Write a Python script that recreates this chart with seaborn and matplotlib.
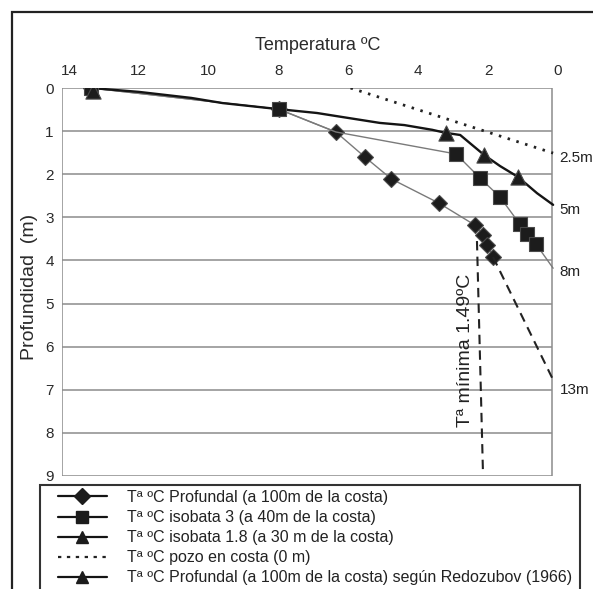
import matplotlib
matplotlib.use("Agg")
import matplotlib.pyplot as plt
import seaborn as sns
import pandas as pd
from matplotlib.lines import Line2D
from matplotlib.patches import Rectangle

# ---------------- data (temperature ºC, depth m) ----------------
prof_temp = [13.37, 8.0, 6.36, 5.53, 4.77, 3.41, 2.38, 2.15, 2.03, 1.86]
prof_depth = [0.0, 0.49, 1.02, 1.60, 2.11, 2.67, 3.18, 3.41, 3.64, 3.92]

iso3_line_temp = [13.37, 8.0, 6.36, 2.92, 2.23, 1.66, 1.09, 0.89, 0.63, 0.14]
iso3_line_depth = [0.0, 0.49, 1.02, 1.53, 2.09, 2.53, 3.16, 3.39, 3.62, 4.18]
iso3_mark_temp = [13.37, 8.0, 2.92, 2.23, 1.66, 1.09, 0.89, 0.63]
iso3_mark_depth = [0.0, 0.49, 1.53, 2.09, 2.53, 3.16, 3.39, 3.62]

iso18_line_temp = [13.37, 12.0, 10.5, 9.6, 8.0, 6.9, 6.2, 5.1, 4.4, 3.6, 3.22,
                   2.8, 2.52, 2.12, 1.66, 1.15, 0.6, 0.14]
iso18_line_depth = [0.0, 0.09, 0.23, 0.35, 0.49, 0.58, 0.67, 0.81, 0.86, 0.97, 1.04,
                    1.09, 1.28, 1.55, 1.81, 2.06, 2.44, 2.71]
iso18_mark_temp = [13.3, 3.22, 2.12, 1.15]
iso18_mark_depth = [0.07, 1.04, 1.55, 2.06]

pozo_temp = [5.94, 0.14]
pozo_depth = [0.0, 1.51]

extrap_temp = [1.86, 0.14]
extrap_depth = [3.92, 6.77]

tmin_temp = [2.32, 2.15]
tmin_depth = [3.55, 8.86]

well_labels = ["2.5m", "5m", "8m", "13m"]
well_label_depth = [1.62, 2.83, 4.27, 7.0]

x_ticks = [14, 12, 10, 8, 6, 4, 2, 0]
y_ticks = [0, 1, 2, 3, 4, 5, 6, 7, 8, 9]
grid_depths = [1, 2, 3, 4, 5, 6, 7, 8]

legend_labels = [
    "Tª ºC Profundal (a 100m de la costa)",
    "Tª ºC isobata 3 (a 40m de la costa)",
    "Tª ºC isobata 1.8 (a 30 m de la costa)",
    "Tª ºC pozo en costa (0 m)",
    "Tª ºC Profundal (a 100m de la costa) según Redozubov (1966)",
]

# ---------------- style ----------------
sns.set_theme(style="white")
plt.rcParams["font.family"] = ["Liberation Sans", "DejaVu Sans"]
plt.rcParams["text.color"] = "#222222"

W, H = 593, 589
fig = plt.figure(figsize=(W / 100, H / 100), dpi=100)
ax = fig.add_axes([62 / W, 1 - 476 / H, (558 - 62) / W, (476 - 88) / H])

XL, XR = 14.2, 0.0
ax.set_xlim(XL, XR)
ax.set_ylim(9, 0)
for s in ax.spines.values():
    s.set_visible(False)

gray = "#8c8c8c"
# frame and grid lines of the plot area
ax.hlines(grid_depths, XL, 0.16, color=gray, lw=1.1, zorder=1)
ax.hlines([0, 9], XL, 0.16, color=gray, lw=1.1, zorder=1)
ax.vlines([XL, 0.16], 0, 9, color=gray, lw=1.1, zorder=1)

mk = dict(markerfacecolor="#1c1c1c", markeredgecolor="#4a4a4a", markeredgewidth=0.8)

# Profundal (diamonds)
sns.lineplot(x=prof_temp, y=prof_depth, sort=False, estimator=None, ax=ax,
             color="#7a7a7a", lw=1.0, marker="D", markersize=8, zorder=3, **mk)
# isobata 3 (squares)
sns.lineplot(x=iso3_line_temp, y=iso3_line_depth, sort=False, estimator=None, ax=ax,
             color="#7a7a7a", lw=1.0, zorder=3)
sns.scatterplot(x=iso3_mark_temp, y=iso3_mark_depth, ax=ax, marker="s", s=95,
                color="#1c1c1c", edgecolor="#4a4a4a", linewidth=0.8, zorder=5)
# isobata 1.8 (thick curve + triangles)
sns.lineplot(x=iso18_line_temp, y=iso18_line_depth, sort=False, estimator=None, ax=ax,
             color="#141414", lw=1.7, zorder=4)
sns.scatterplot(x=iso18_mark_temp, y=iso18_mark_depth, ax=ax, marker="^", s=120,
                color="#1c1c1c", edgecolor="#4a4a4a", linewidth=0.8, zorder=5)
# pozo en costa (dotted)
sns.lineplot(x=pozo_temp, y=pozo_depth, sort=False, estimator=None, ax=ax,
             color="#222222", lw=2.0, linestyle=(0, (0.9, 2.4)), zorder=3)
# extrapolation dashed to 13m
sns.lineplot(x=extrap_temp, y=extrap_depth, sort=False, estimator=None, ax=ax,
             color="#222222", lw=1.5, linestyle=(0, (4.5, 3)), zorder=3)
# minimum temperature dashed
sns.lineplot(x=tmin_temp, y=tmin_depth, sort=False, estimator=None, ax=ax,
             color="#222222", lw=1.5, linestyle=(0, (4.5, 3)), zorder=3)

for lab, d in zip(well_labels, well_label_depth):
    ax.text(-0.05, d, lab, ha="left", va="center", fontsize=11, clip_on=False)

ax.text(2.66, 6.08, "Tª mínima 1.49ºC", rotation=90, ha="center", va="center",
        fontsize=14, zorder=6)

# axes ticks / labels
ax.xaxis.tick_top()
ax.set_xticks(x_ticks)
ax.set_xticklabels([str(t) for t in x_ticks])
ax.set_yticks(y_ticks)
ax.set_yticklabels([str(t) for t in y_ticks])
ax.tick_params(axis="x", length=0, pad=7, labelsize=11, labelcolor="#2a2a2a")
ax.tick_params(axis="y", length=0, pad=6, labelsize=11, labelcolor="#2a2a2a")

ax.xaxis.set_label_position("top")
ax.set_xlabel("Temperatura ºC", fontsize=13, color="#2a2a2a", va="center")
ax.xaxis.set_label_coords((318 - 62) / 496, (476 - 45) / 388)
ax.set_ylabel("Profundidad  (m)", fontsize=14, color="#2a2a2a", va="center")
ax.yaxis.set_label_coords((30 - 62) / 496, (476 - 287) / 388)

# legend
hk = dict(color="#141414", lw=1.6, markerfacecolor="#1c1c1c", markeredgecolor="#1c1c1c")
handles = [
    Line2D([], [], marker="D", markersize=8, **hk),
    Line2D([], [], marker="s", markersize=8, **hk),
    Line2D([], [], marker="^", markersize=9, **hk),
    Line2D([], [], color="#222222", lw=1.6, linestyle=(0, (1.5, 2.5))),
    Line2D([], [], marker="^", markersize=9, **hk),
]
fig.legend(handles, legend_labels, loc="upper left", frameon=False,
           bbox_to_anchor=(58 / W, 1 - 490 / H), bbox_transform=fig.transFigure,
           borderpad=0, borderaxespad=0, fontsize=11.5, labelspacing=0.32,
           handlelength=3.05, handletextpad=1.25, labelcolor="#222222")

# legend frame and outer frame
fig.patches.append(Rectangle((40 / W, -0.05), (580 - 40) / W, 0.05 + 1 - 485 / H,
                             transform=fig.transFigure, fill=False,
                             edgecolor="#333333", lw=1.5, zorder=10))
fig.patches.append(Rectangle((12 / W, -0.1), 1.2, 0.1 + 1 - 12 / H,
                             transform=fig.transFigure, fill=False,
                             edgecolor="#222222", lw=1.6, zorder=10))

fig.savefig("out.png", dpi=100, facecolor="white")
